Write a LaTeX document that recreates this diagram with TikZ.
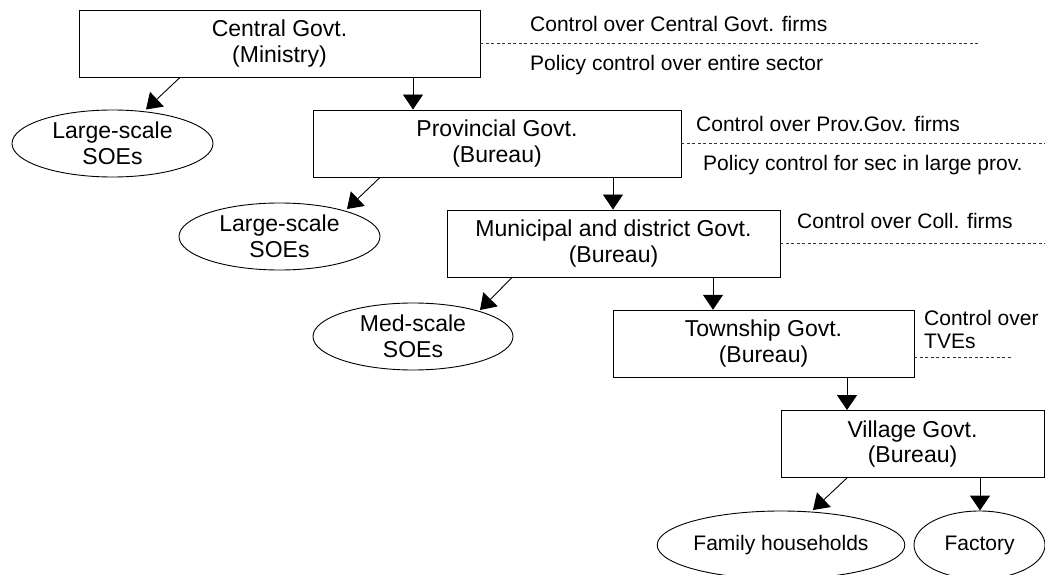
\documentclass[tikz,border=0pt]{standalone}
\usepackage{fontspec}
\setmainfont{Liberation Sans}
\usetikzlibrary{arrows.meta,shapes.geometric,calc}
\newcommand\bigf{\fontsize{23}{25.6}\selectfont}
\newcommand\smallf{\fontsize{21}{23.3}\selectfont}
\tikzset{
  govbox/.style={draw, line width=0.9pt, inner sep=0pt, align=center, font=\bigf, minimum height=67pt},
  firm/.style={draw, ellipse, line width=0.9pt, inner sep=0pt, align=center, font=\bigf, minimum height=67pt},
  lab/.style={anchor=base west, inner sep=0pt, font=\smallf, align=left},
  arr/.style={line width=0.9pt, -{Triangle[length=15pt,width=20pt]}},
  sep/.style={line width=0.8pt, dash pattern=on 3pt off 2.5pt, black!80}
}
\begin{document}
\begin{tikzpicture}[x=1pt,y=-1pt]
\useasboundingbox (0,0) rectangle (1045,575);
% boxes
\node[govbox, minimum width=401pt] (b1) at (279.5,43.5) {Central Govt.\\(Ministry)};
\node[govbox, minimum width=368pt] (b2) at (497,143.5) {Provincial Govt.\\(Bureau)};
\node[govbox, minimum width=333pt] (b3) at (613.5,243.5) {Municipal and district Govt.\\(Bureau)};
\node[govbox, minimum width=301pt] (b4) at (763.5,343.7) {Township Govt.\\(Bureau)};
\node[govbox, minimum width=263pt] (b5) at (912.5,444) {Village Govt.\\(Bureau)};
% ellipses
\node[firm, minimum width=201pt] (e1) at (112.5,143.5) {Large-scale\\SOEs};
\node[firm, minimum width=201pt] (e2) at (279.5,236.5) {Large-scale\\SOEs};
\node[firm, minimum width=200pt] (e3) at (413,336.5) {Med-scale\\SOEs};
\node[firm, minimum width=202pt, minimum height=68pt, font=\smallf] (e4) at (781,545) {Family households};
\node[firm, minimum width=131pt, minimum height=68pt, font=\smallf] (e5) at (979.5,545) {Factory};
% labels
\node[lab] (l1a) at (530,31.7) {Control over Central Govt. firms};
\node[lab] (l1b) at (530,71) {Policy control over entire sector};
\node[lab] (l2a) at (696,131.7) {Control over Prov.Gov. firms};
\node[lab] (l2b) at (703,170.7) {Policy control for sec in large prov.};
\node[lab] (l3) at (797,228.3) {Control over Coll. firms};
\node[lab] (l4) at (924,348.3) {Control over\\TVEs};
% dashed separators
\coordinate (d1e) at (979,43.5);
\coordinate (d2e) at (1046,143.5);
\coordinate (d3e) at (1046,243.5);
\coordinate (d4e) at (1013,357.3);
\draw[sep] (b1.east) -- (d1e);
\draw[sep] (b2.east) -- (d2e);
\draw[sep] (b3.east) -- (d3e);
\draw[sep] ($(b4.east)+(0,13.6)$) -- (d4e);
% arrows
\draw[arr] (b1.south -| 180,0) -- ($(e1.center)+(33.5,-34)$);
\draw[arr] (b1.south -| 413,0) -- (b2.north -| 413,0);
\draw[arr] (b2.south -| 380,0) -- ($(e2.center)+(67.5,-27.5)$);
\draw[arr] (b2.south -| 613,0) -- (b3.north -| 613,0);
\draw[arr] (b3.south -| 512,0) -- ($(e3.center)+(67,-26.5)$);
\draw[arr] (b3.south -| 713,0) -- (b4.north -| 713,0);
\draw[arr] (b4.south -| 847,0) -- (b5.north -| 847,0);
\draw[arr] (b5.south -| 847,0) -- ($(e4.center)+(32,-35)$);
\draw[arr] (b5.south -| 980,0) -- (e5.north -| 980,0);
\end{tikzpicture}
\end{document}
